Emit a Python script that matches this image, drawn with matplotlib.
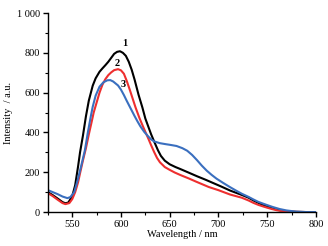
import matplotlib
matplotlib.use("Agg")
import matplotlib.pyplot as plt
from matplotlib.ticker import MultipleLocator, FuncFormatter

plt.rcParams['font.family'] = ['Liberation Serif', 'DejaVu Serif']

# Curve 1 (black)
wl1 = [525, 530, 535, 540, 543, 546, 550, 553, 556, 558, 561, 564, 567, 571, 574,
       578, 581, 584, 587, 590, 593, 596, 599, 602, 605, 608, 611, 614, 618, 622,
       625, 628, 631, 634, 638, 641, 645, 650, 656, 661, 670, 678, 687, 695, 703,
       712, 718, 724, 731, 736, 741, 746, 750, 755, 760, 765, 770, 775, 780, 790,
       800]
int1 = [100, 85, 68, 50, 44, 48, 80, 135, 230, 300, 385, 480, 560, 635, 672,
        705, 722, 738, 755, 775, 795, 805, 808, 800, 785, 755, 715, 665, 590, 525,
        470, 430, 390, 355, 310, 282, 258, 240, 226, 216, 197, 180, 162, 145, 128,
        108, 97, 86, 72, 58, 46, 35, 28, 19, 12, 7, 4, 2, 1, 0,
        0]

# Curve 2 (red)
wl2 = [525, 530, 535, 540, 543, 547, 550, 553, 556, 558, 561, 564, 567, 570, 572,
       575, 578, 581, 584, 587, 590, 593, 597, 600, 603, 606, 609, 612, 615, 619,
       622, 625, 628, 631, 634, 637, 640, 645, 650, 655, 661, 670, 677, 690, 700,
       712, 724, 731, 736, 741, 746, 750, 755, 760, 765, 770, 775, 780, 790, 800]
int2 = [95, 80, 62, 45, 40, 45, 65, 100, 150, 195, 260, 320, 390, 455, 500,
        550, 600, 640, 668, 688, 702, 713, 718, 712, 695, 658, 615, 570, 525, 472,
        437, 403, 370, 335, 302, 272, 250, 226, 212, 199, 186, 168, 153, 126, 110,
        88, 72, 58, 46, 36, 28, 22, 15, 9, 5, 3, 2, 1, 0, 0]

# Curve 3 (blue)
wl3 = [525, 530, 535, 540, 545, 548, 552, 555, 559, 563, 566, 569, 571, 574, 578,
       582, 586, 589, 592, 597, 600, 603, 606, 610, 614, 617, 620, 624, 628, 631,
       634, 640, 646, 650, 657, 663, 668, 673, 678, 683, 688, 693, 698, 705, 712,
       718, 724, 731, 736, 741, 746, 750, 756, 763, 770, 775, 780, 790, 800]
int3 = [110, 100, 90, 78, 70, 75, 100, 150, 228, 311, 400, 480, 529, 585, 630,
        652, 662, 663, 656, 636, 615, 588, 558, 520, 482, 455, 430, 402, 380, 365,
        355, 346, 341, 338, 332, 321, 308, 287, 261, 233, 208, 187, 168, 146, 125,
        108, 92, 76, 63, 51, 42, 35, 25, 15, 8, 5, 2, 0, 0]

labels = ['1', '2', '3']
label_pos = [(604, 848), (596, 746), (602, 640)]
colors = ['black', '#ee2f2f', '#3a6fbf']

fig = plt.figure(figsize=(3.28, 2.46), dpi=100)
ax = fig.add_axes([0.146, 0.138, 0.817, 0.809])

ax.plot(wl1, int1, color=colors[0], lw=1.5)
ax.plot(wl2, int2, color=colors[1], lw=1.5)
ax.plot(wl3, int3, color=colors[2], lw=1.5)

for txt, (x, y) in zip(labels, label_pos):
    ax.text(x, y, txt, fontsize=7.5, fontweight='bold', ha='center', va='center')

ax.set_xlim(525, 800)
ax.set_ylim(0, 1000)
ax.xaxis.set_major_locator(MultipleLocator(50))
ax.xaxis.set_minor_locator(MultipleLocator(25))
ax.yaxis.set_major_locator(MultipleLocator(200))
ax.yaxis.set_minor_locator(MultipleLocator(100))
ax.yaxis.set_major_formatter(FuncFormatter(lambda v, p: '1 000' if v == 1000 else '%d' % v))

for side in ['top', 'right']:
    ax.spines[side].set_visible(False)
for side in ['left', 'bottom']:
    ax.spines[side].set_linewidth(1.0)

ax.tick_params(which='major', direction='out', length=3.5, width=1.0, labelsize=7.5, pad=2)
ax.tick_params(which='minor', direction='out', length=2, width=0.8)

ax.set_xlabel('Wavelength / nm', fontsize=7.5, labelpad=1)
ax.set_ylabel('Intensity  / a.u.', fontsize=7.5, labelpad=3)

fig.savefig('out.png', dpi=100)
